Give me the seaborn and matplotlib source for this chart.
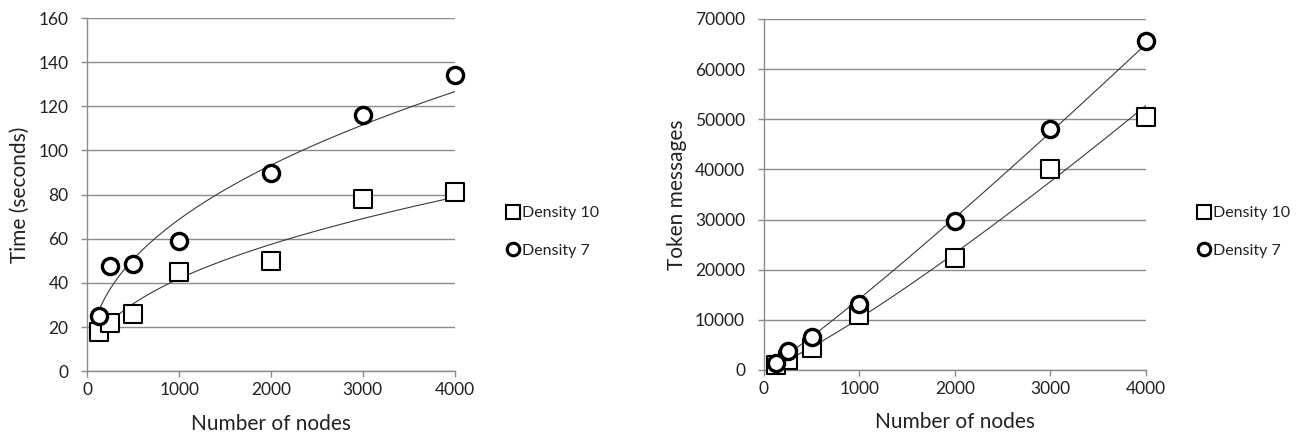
import numpy as np
import pandas as pd
import matplotlib
matplotlib.use("Agg")
import matplotlib.pyplot as plt
import seaborn as sns

# values
nodes = [125, 250, 500, 1000, 2000, 3000, 4000]
time_d10 = [18, 22, 26, 45, 50, 78, 81]
time_d7 = [25, 47.5, 48.5, 59, 90, 116, 134]
tokens_d10 = [900, 2000, 4300, 11000, 22300, 40100, 50500]
tokens_d7 = [1300, 3700, 6600, 13200, 29800, 48100, 65600]

sns.set_theme(style="white")
plt.rcParams["font.family"] = ["Lato", "DejaVu Sans"]

fig = plt.figure(figsize=(13.02, 4.38), dpi=100)
ax1 = fig.add_axes([0.0671, 0.1523, 0.2821, 0.8066])
ax2 = fig.add_axes([0.5866, 0.1553, 0.2934, 0.8014])


def power_trend(x, y):
    # excel-style power trendline, y = a * x^b
    b, lna = np.polyfit(np.log(x), np.log(y), 1)
    xs = np.linspace(min(x), max(x), 200)
    return xs, np.exp(lna) * xs ** b


def draw(ax, y10, y7, ylabel, ymax, ystep, ylabpad):
    for y in (y10, y7):
        xs, ys = power_trend(nodes, y)
        sns.lineplot(x=xs, y=ys, ax=ax, color="#3a3a3a", linewidth=0.8)
    df = pd.DataFrame({"x": nodes + nodes,
                       "y": y10 + y7,
                       "s": ["Density 10"] * 7 + ["Density 7"] * 7})
    sns.scatterplot(data=df[df.s == "Density 10"], x="x", y="y", ax=ax,
                    marker="s", s=150, facecolor="white", edgecolor="black",
                    linewidth=1.5, zorder=3, legend=False, clip_on=False)
    sns.scatterplot(data=df[df.s == "Density 7"], x="x", y="y", ax=ax,
                    marker="o", s=135, facecolor="white", edgecolor="black",
                    linewidth=2.4, zorder=3, legend=False, clip_on=False)
    ax.set_xlim(0, 4000)
    ax.set_ylim(0, ymax)
    ax.set_xticks(range(0, 4001, 1000))
    ax.set_yticks(np.arange(0, ymax + 1, ystep))
    ax.yaxis.grid(True, color="#8c8c8c", linewidth=1)
    ax.set_axisbelow(True)
    for side in ("top", "right"):
        ax.spines[side].set_visible(False)
    for side in ("left", "bottom"):
        ax.spines[side].set_color("#8c8c8c")
        ax.spines[side].set_linewidth(1)
    ax.tick_params(axis="both", length=4.5, width=1, color="#8c8c8c",
                   labelsize=12.5, labelcolor="#222222", direction="out",
                   bottom=True, left=True)
    ax.tick_params(axis="y", pad=9)
    ax.tick_params(axis="x", pad=3.5)
    ax.set_xlabel("Number of nodes", fontsize=15, color="#222222", labelpad=11)
    ax.set_ylabel(ylabel, fontsize=15, color="#222222", labelpad=ylabpad)


draw(ax1, time_d10, time_d7, "Time (seconds)", 160, 20, 6)
draw(ax2, tokens_d10, tokens_d7, "Token messages", 70000, 10000, 6)

for lx in (492 / 1302, 1183 / 1302):
    handles = [
        plt.Line2D([], [], marker="s", linestyle="none", markersize=10,
                   markerfacecolor="white", markeredgecolor="black",
                   markeredgewidth=1.5),
        plt.Line2D([], [], marker="o", linestyle="none", markersize=9,
                   markerfacecolor="white", markeredgecolor="black",
                   markeredgewidth=2.2),
    ]
    fig.legend(handles, ["Density 10", "Density 7"], loc="center left",
               bbox_to_anchor=(lx, 1 - 232 / 438), frameon=False,
               handlelength=0.8, handletextpad=0.2, labelspacing=1.45,
               fontsize=11.5, labelcolor="#222222")

fig.savefig("out.png", dpi=100)
